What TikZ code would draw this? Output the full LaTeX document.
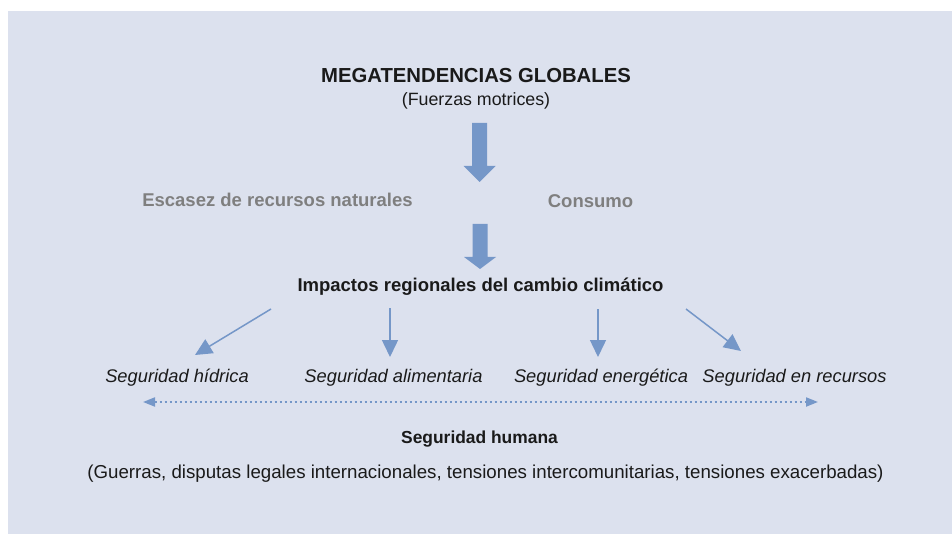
\documentclass[tikz,border=0pt]{standalone}
\usepackage{fontspec}
\setmainfont{Liberation Sans}
\usetikzlibrary{arrows.meta,calc}
\definecolor{panel}{HTML}{DCE1EE}
\definecolor{arrowblue}{HTML}{7597C8}
\definecolor{darktext}{HTML}{1A1A1A}
\definecolor{greytext}{HTML}{7F7F7F}
\tikzset{
  txt/.style={inner sep=0pt, anchor=base, text=darktext, font=\fontsize{18.5}{22}\selectfont},
  boldtxt/.style={txt, font=\fontsize{18.5}{22}\selectfont\bfseries},
  greytxt/.style={boldtxt, text=greytext},
  itxt/.style={txt, font=\fontsize{18.3}{22}\selectfont\itshape},
  thinarrow/.style={draw=arrowblue, line width=1.5pt, -{Triangle[length=17pt,width=16pt]}, fill=arrowblue},
  dotarrow/.style={draw=arrowblue, line width=2pt, dash pattern=on 2pt off 3pt,
     {Triangle[length=12pt,width=9pt]}-{Triangle[length=12pt,width=9pt]}},
  bigarrow/.style={fill=arrowblue, draw=none}
}
\begin{document}
\begin{tikzpicture}[x=1pt,y=-1pt]
\useasboundingbox (0,0) rectangle (952,534);
\fill[white] (0,0) rectangle (952,534);
\fill[panel] (8,11) rectangle (952,534);

\node[boldtxt, font=\fontsize{20.3}{24}\selectfont\bfseries] (title) at (476,83) {MEGATENDENCIAS GLOBALES};
\node[txt, font=\fontsize{17.8}{22}\selectfont] (sub) at (476,106) {(Fuerzas motrices)};

% big arrow 1
\coordinate (b1top) at (479.5,123);
\coordinate (b1tip) at (479.5,182);
\fill[bigarrow] ($(b1top)+(-7.5,0)$) -- ($(b1top)+(7.5,0)$) -- ($(b1top)+(7.5,43)$) -- ($(b1top)+(16,43)$)
  -- (b1tip) -- ($(b1top)+(-16,43)$) -- ($(b1top)+(-7.5,43)$) -- cycle;

\node[greytxt] (esc) at (277.5,207) {Escasez de recursos naturales};
\node[greytxt] (cons) at (590.5,208) {Consumo};

% big arrow 2
\coordinate (b2top) at (480,224);
\coordinate (b2tip) at (480,269);
\fill[bigarrow] ($(b2top)+(-7.5,0)$) -- ($(b2top)+(7.5,0)$) -- ($(b2top)+(7.5,33)$) -- ($(b2top)+(16,33)$)
  -- (b2tip) -- ($(b2top)+(-16,33)$) -- ($(b2top)+(-7.5,33)$) -- cycle;

\node[boldtxt] (imp) at (480.5,291) {Impactos regionales del cambio climático};

\node[itxt] (hid) at (177,382) {Seguridad hídrica};
\node[itxt] (ali) at (393.5,382) {Seguridad alimentaria};
\node[itxt] (ene) at (601,382) {Seguridad energética};
\node[itxt] (rec) at (794.5,382) {Seguridad en recursos};

\coordinate (s1) at (271,309); \coordinate (e1) at (195,355);
\coordinate (s2) at (390,308); \coordinate (e2) at (390,357);
\coordinate (s3) at (598,309); \coordinate (e3) at (598,357);
\coordinate (s4) at (686,309); \coordinate (e4) at (741,351);
\draw[thinarrow] (s1) -- (e1);
\draw[thinarrow] (s2) -- (e2);
\draw[thinarrow] (s3) -- (e3);
\draw[thinarrow] (s4) -- (e4);

\coordinate (dl) at (143,402);
\coordinate (dr) at (818,402);
\draw[dotarrow] (dl) -- (dr);

\node[txt, font=\fontsize{17.4}{22}\selectfont\bfseries] (hum) at (479.5,443) {Seguridad humana};
\node[txt, font=\fontsize{18.7}{22}\selectfont] (guer) at (485.5,478) {(Guerras, disputas legales internacionales, tensiones intercomunitarias, tensiones exacerbadas)};
\end{tikzpicture}
\end{document}
